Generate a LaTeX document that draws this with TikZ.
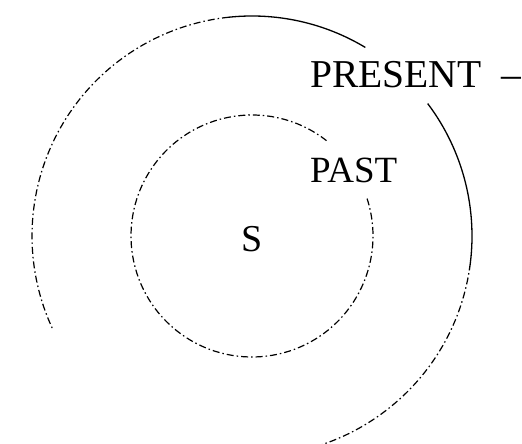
\documentclass[tikz,border=0pt]{standalone}
\usepackage{fontspec}
\setmainfont{Liberation Serif}
\begin{document}
\begin{tikzpicture}[x=1pt,y=1pt,
  ringdd/.style={line width=1.2pt,dash pattern=on 7pt off 3pt on 1.5pt off 3pt},
  ringsolid/.style={line width=1.3pt},
  lbl/.style={inner sep=0pt,font=\fontsize{39.5}{39.5}\selectfont}]
\useasboundingbox (0,0) rectangle (522,444);
\clip (0,0) rectangle (522,444);
\coordinate (c) at (252,208);
% outer ring (PRESENT)
\draw[ringsolid] ([shift={(c)}]59:220) arc[start angle=59,end angle=96,radius=220];
\draw[ringdd] ([shift={(c)}]96:220) arc[start angle=96,end angle=205,radius=220];
\draw[ringdd] ([shift={(c)}]-92:220) arc[start angle=-92,end angle=-9,radius=220];
\draw[ringsolid] ([shift={(c)}]-9:220) arc[start angle=-9,end angle=37,radius=220];
% inner ring (PAST)
\draw[ringdd] ([shift={(c)}]52:121) arc[start angle=52,end angle=378,radius=121];
% labels
\node[lbl,anchor=base west] (present) at (310,356) {PRESENT\hspace{0.5em}--};
\node[lbl,anchor=base west,font=\fontsize{37}{37}\selectfont] (past) at (310,261) {PAST};
\node[lbl,anchor=base,font=\fontsize{38}{38}\selectfont] (s) at (252.5,192) {S};
\end{tikzpicture}
\end{document}
